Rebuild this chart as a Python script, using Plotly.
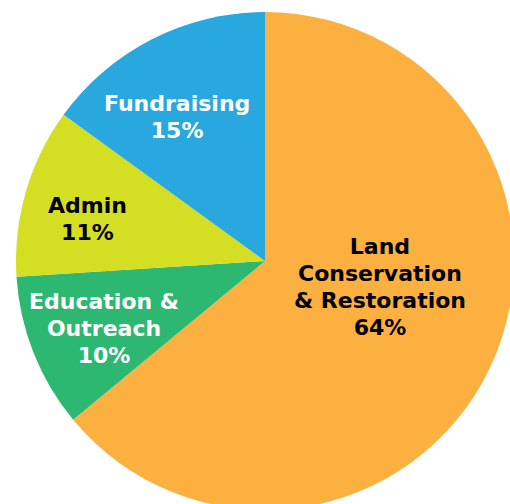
import plotly.graph_objects as go

labels = ["Land Conservation & Restoration", "Education & Outreach", "Admin", "Fundraising"]
label_lines = [["Land", "Conservation", "& Restoration"], ["Education &", "Outreach"], ["Admin"], ["Fundraising"]]
values = [64, 10, 11, 15]
colors = ["#FBB040", "#2DB872", "#D4DE22", "#29A8E0"]
text_colors = ["#000000", "#FFFFFF", "#000000", "#FFFFFF"]
# label block centres in pixels (x from left, y from top)
label_pos = [(380, 286.5), (104, 328), (87, 218.5), (177, 117.5)]

W, H = 530, 520
cx, cy, r = 265, 261, 249

fig = go.Figure(go.Pie(
    labels=labels,
    values=values,
    sort=False,
    direction="clockwise",
    rotation=0,
    marker=dict(colors=colors, line=dict(width=0)),
    textinfo="none",
    hoverinfo="label+percent",
    showlegend=False,
    domain=dict(x=[(cx - r) / W, (cx + r) / W], y=[(H - (cy + r)) / H, (H - (cy - r)) / H]),
))

for lines, val, tc, (px, py) in zip(label_lines, values, text_colors, label_pos):
    all_lines = lines + [f"{val}%"]
    text = "<br>".join(f'<span style="font-size:22px"><b>{t}</b></span>' for t in all_lines)
    fig.add_annotation(
        x=px / W, y=1 - py / H, xref="paper", yref="paper",
        text=text, showarrow=False,
        font=dict(family="DejaVu Sans", size=20.8, color=tc),
        align="center", xanchor="center", yanchor="middle",
    )

fig.update_layout(
    width=W, height=H,
    margin=dict(l=0, r=0, t=0, b=0),
    paper_bgcolor="white", plot_bgcolor="white",
)

fig.write_html(
    "out.html",
    config={"displayModeBar": False},
    post_script="document.body.style.margin='0';document.body.style.overflow='hidden';document.documentElement.style.overflow='hidden';",
)
